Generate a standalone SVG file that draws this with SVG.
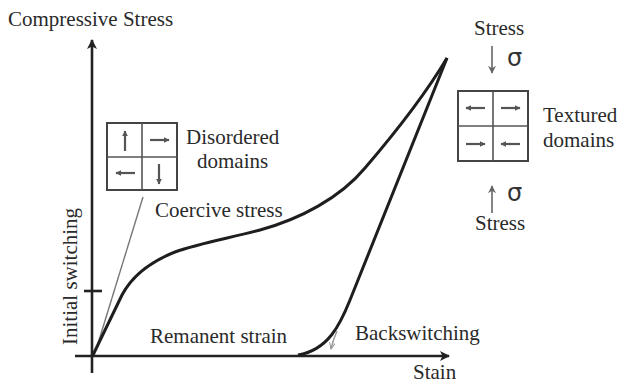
<svg xmlns="http://www.w3.org/2000/svg" width="617" height="385" viewBox="0 0 617 385">
<defs>
<marker id="axisHeadBig" viewBox="0 0 10 10" refX="9" refY="5" markerWidth="11" markerHeight="10" markerUnits="userSpaceOnUse" orient="auto">
<path d="M0,0 L10,5 L0,10 L2.5,5 Z" fill="#222"/>
</marker>
<marker id="small" viewBox="0 0 10 10" refX="9" refY="5" markerWidth="6" markerHeight="6" markerUnits="userSpaceOnUse" orient="auto">
<path d="M0,0 L10,5 L0,10 Z" fill="#555"/>
</marker>
<marker id="stressHead" viewBox="0 0 10 10" refX="9" refY="5" markerWidth="9" markerHeight="8" markerUnits="userSpaceOnUse" orient="auto">
<path d="M0,0 L10,5 L0,10 L3,5 Z" fill="#666"/>
</marker>
<marker id="openHead" viewBox="0 0 10 10" refX="9" refY="5" markerWidth="7" markerHeight="7" markerUnits="userSpaceOnUse" orient="auto">
<path d="M0,1 L9,5 L0,9" fill="none" stroke="#999" stroke-width="1.5"/>
</marker>
</defs>
<style>
text{font-family:"Liberation Serif","Times New Roman",serif;fill:#2a2a2a;font-size:21px}
.sig{font-family:"DejaVu Sans","Liberation Sans",sans-serif;font-size:24px;fill:#333}
.axis{stroke:#222;stroke-width:2.6;fill:none}
.curve{stroke:#1e1e1e;stroke-width:3;fill:none;stroke-linejoin:round}
.box{stroke:#444;stroke-width:2;fill:#fff}
.cell{stroke:#555;stroke-width:1.6;fill:none}
.sa{stroke:#555;stroke-width:2.2;marker-end:url(#small)}
.st{stroke:#666;stroke-width:1.6;marker-end:url(#stressHead)}
.thin{stroke:#777;stroke-width:1.4;fill:none}
</style>

<g id="connectors">
<line class="axis" x1="92" y1="373" x2="92" y2="40" marker-end="url(#axisHeadBig)"/>
<line class="axis" x1="75" y1="356" x2="449" y2="356" marker-end="url(#axisHeadBig)"/>
<line class="axis" x1="84" y1="291" x2="102" y2="291" stroke-width="1.6"/>
<line class="thin" x1="96" y1="350" x2="143" y2="197"/>
<path class="curve" d="M93,355 L122,295 C132,276 150,262 175,252 C200,243 230,238 260,230 C300,219 340,198 365,168 C395,133 425,95 447,58"/>
<path class="curve" d="M447,58 L350,300 C340,325 328,350 298,355"/>
<path d="M337,331 Q333,340 331,349" stroke="#999" stroke-width="1.5" fill="none" marker-end="url(#openHead)"/>
<line class="st" x1="492" y1="46" x2="492" y2="73"/>
<line class="st" x1="492" y1="213" x2="492" y2="186"/>
</g>

<g id="axis-labels">
<text x="8" y="26" font-size="22">Compressive Stress</text>
<text x="413" y="379">Stain</text>
<text x="0" y="0" transform="translate(77,345) rotate(-90)" font-size="19">Initial switching</text>
</g>

<g id="disordered">
<rect class="box" x="107" y="123" width="70" height="67"/>
<line class="cell" x1="142" y1="123" x2="142" y2="190"/>
<line class="cell" x1="107" y1="157" x2="177" y2="157"/>
<line class="sa" x1="125" y1="151" x2="125" y2="131"/>
<line class="sa" x1="150" y1="140" x2="169" y2="140"/>
<line class="sa" x1="135" y1="173" x2="116" y2="173"/>
<line class="sa" x1="159" y1="164" x2="159" y2="184"/>
<text x="186" y="144">Disordered</text>
<text x="197" y="168">domains</text>
</g>

<g id="coercive">
<text x="155" y="217">Coercive stress</text>
</g>

<g id="textured">
<rect class="box" x="458" y="91" width="70" height="70"/>
<line class="cell" x1="493" y1="91" x2="493" y2="161"/>
<line class="cell" x1="458" y1="126" x2="528" y2="126"/>
<line class="sa" x1="485" y1="108" x2="466" y2="108"/>
<line class="sa" x1="501" y1="108" x2="520" y2="108"/>
<line class="sa" x1="466" y1="144" x2="485" y2="144"/>
<line class="sa" x1="520" y1="144" x2="501" y2="144"/>
<text x="543" y="122" font-size="20">Textured</text>
<text x="543" y="147" font-size="20">domains</text>
</g>

<g id="stress-top">
<text x="474" y="35">Stress</text>
<text class="sig" x="507" y="66">σ</text>
</g>

<g id="stress-bottom">
<text class="sig" x="507" y="201">σ</text>
<text x="475" y="230">Stress</text>
</g>

<g id="remanent">
<text x="150" y="343">Remanent strain</text>
</g>

<g id="backswitching">
<text x="355" y="340">Backswitching</text>
</g>
</svg>
